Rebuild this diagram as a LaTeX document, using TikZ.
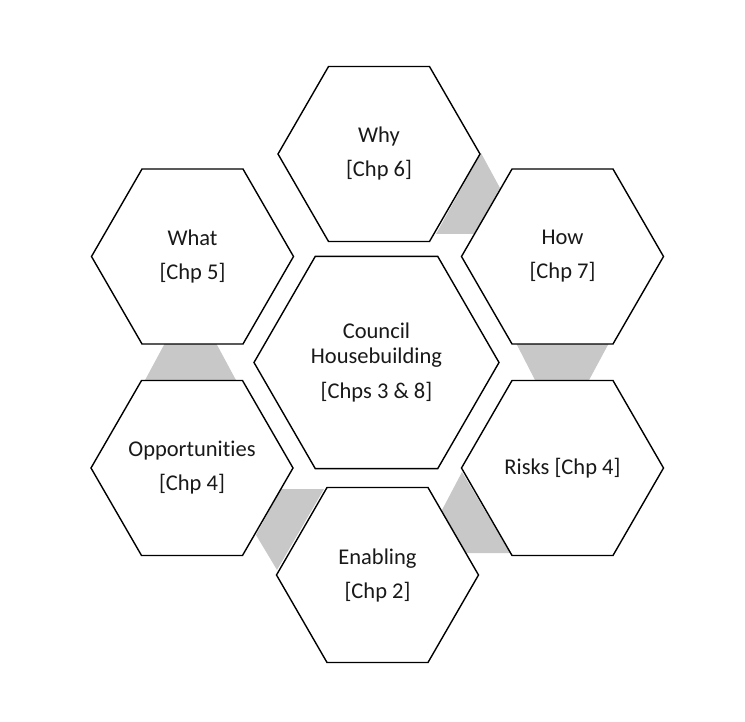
\documentclass[tikz,border=0pt]{standalone}
\usepackage{fontspec}
\setmainfont{Carlito}[Ligatures=NoCommon]
\usetikzlibrary{shapes.geometric}
\definecolor{linkgray}{RGB}{200,200,200}
\definecolor{txtcol}{RGB}{25,25,25}
\begin{document}
\begin{tikzpicture}[x=1pt,y=-1pt,
  hexa/.style={regular polygon, regular polygon sides=6, draw=black, line width=1.4pt,
    fill=white, minimum size=202pt, inner sep=0pt},
  bighexa/.style={hexa, minimum size=245pt},
  label/.style={align=center, inner sep=0pt, font=\fontsize{22.5}{34}\selectfont, text=txtcol},
  link/.style={fill=linkgray, draw=none}]
\useasboundingbox (0,0) rectangle (745,722);
% gray links (behind the hexagons)
\coordinate (l1a) at (481,153); \coordinate (l1b) at (500,188);
\coordinate (l1c) at (474,234); \coordinate (l1d) at (436,234);
\fill[link] (l1a) -- (l1b) -- (l1c) -- (l1d) -- cycle;
\coordinate (l2a) at (516,343); \coordinate (l2b) at (609,343);
\coordinate (l2c) at (588,382); \coordinate (l2d) at (536,382);
\fill[link] (l2a) -- (l2b) -- (l2c) -- (l2d) -- cycle;
\coordinate (l3a) at (165,343); \coordinate (l3b) at (216,343);
\coordinate (l3c) at (237,382); \coordinate (l3d) at (144,382);
\fill[link] (l3a) -- (l3b) -- (l3c) -- (l3d) -- cycle;
\coordinate (l4a) at (281,489); \coordinate (l4b) at (324,489);
\coordinate (l4c) at (277,570); \coordinate (l4d) at (256,535);
\fill[link] (l4a) -- (l4b) -- (l4c) -- (l4d) -- cycle;
\coordinate (l5a) at (462,472); \coordinate (l5b) at (442,510);
\coordinate (l5c) at (463,553); \coordinate (l5d) at (510,553);
\fill[link] (l5a) -- (l5b) -- (l5c) -- (l5d) -- cycle;
% hexagons
\node[hexa] (why) at (379,154) {};
\node[hexa] (how) at (562.5,256.5) {};
\node[hexa] (what) at (192.5,256.5) {};
\node[bighexa] (core) at (376.5,362.5) {};
\node[hexa] (opp) at (192,468) {};
\node[hexa] (risks) at (562.5,468) {};
\node[hexa] (enab) at (377.5,575) {};
% texts
\node[label] (why-t) at (why.center) {Why\\{}[Chp 6]};
\node[label] (how-t) at (how.center) {How\\{}[Chp 7]};
\node[label] (what-t) at (what.center) {What\\{}[Chp 5]};
\node[label] (core-t) at (core.center) {Council\\[-9pt]Housebuilding\\[1pt]{}[Chps 3 \& 8]};
\node[label] (opp-t) at (opp.center) {Opportunities\\{}[Chp 4]};
\node[label] (risks-t) at (risks.center) {Risks [Chp 4]};
\node[label] (enab-t) at (enab.center) {Enabling\\{}[Chp 2]};
\end{tikzpicture}
\end{document}
